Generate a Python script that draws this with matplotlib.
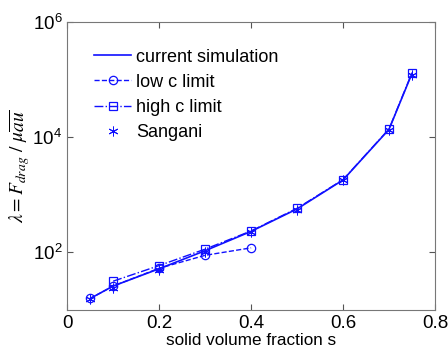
import numpy as np
import matplotlib.pyplot as plt

plt.rcParams['font.family'] = ['Liberation Sans', 'DejaVu Sans']
plt.rcParams['mathtext.fontset'] = 'stix'

# Drag coefficient vs. solid volume fraction
s_sim = [0.05, 0.1, 0.2, 0.3, 0.4, 0.5, 0.6, 0.7, 0.75]
lam_sim = [15.8, 26, 52, 107, 232, 570, 1820, 13800, 130000]

s_low = [0.05, 0.1, 0.2, 0.3, 0.4]
lam_low = [15.8, 26, 53, 89, 120]

s_high = [0.1, 0.2, 0.3, 0.4, 0.5, 0.6, 0.7, 0.75]
lam_high = [31.6, 59, 114, 236, 585, 1840, 14000, 133000]

s_sang = [0.05, 0.1, 0.2, 0.3, 0.4, 0.5, 0.6, 0.7, 0.75]
lam_sang = [15.3, 24.5, 50, 100, 225, 540, 1800, 13600, 120000]

blue = '#1010ff'

fig = plt.figure(figsize=(4.48, 3.55), dpi=100)
ax = fig.add_axes([0.150, 0.127, 0.821, 0.810])

ax.semilogy(s_sim, lam_sim, '-', color=blue, lw=1.2, label='current simulation')
ax.semilogy(s_low, lam_low, '--', color=blue, lw=1.0, marker='o',
            ms=6, mfc='none', mew=0.9, label='low c limit')
ax.semilogy(s_high, lam_high, '-.', color=blue, lw=1.0, marker='s',
            ms=6, mfc='none', mew=0.9, label='high c limit')
ax.semilogy(s_sang, lam_sang, ls='none', color=blue, marker=(6, 2, 0),
            ms=7, mew=0.7, label='Sangani')

# Axis setup
ax.set_xlim(0, 0.8)
ax.set_ylim(10, 1e6)
ax.set_xticks([0, 0.2, 0.4, 0.6, 0.8])
ax.set_xticklabels(['0', '0.2', '0.4', '0.6', '0.8'])
ax.set_yticks([1e2, 1e4, 1e6])
ax.minorticks_off()
ax.tick_params(direction='in', top=True, right=True, labelsize=13.5,
               length=4, width=0.8, colors='#555555', labelcolor='black')
for sp in ax.spines.values():
    sp.set_color('#777777')
    sp.set_linewidth(0.8)

ax.set_xlabel('solid volume fraction s', fontsize=12.3, labelpad=1)
ax.set_ylabel(r'$\lambda = F_{drag}\ /\ \mu\overline{a u}$', fontsize=14, labelpad=0)

leg = ax.legend(loc='upper left', bbox_to_anchor=(0.03, 0.965), frameon=False,
                fontsize=13, handlelength=2.0, handletextpad=0.3,
                labelspacing=0.45)

fig.savefig('out.png', dpi=100)
